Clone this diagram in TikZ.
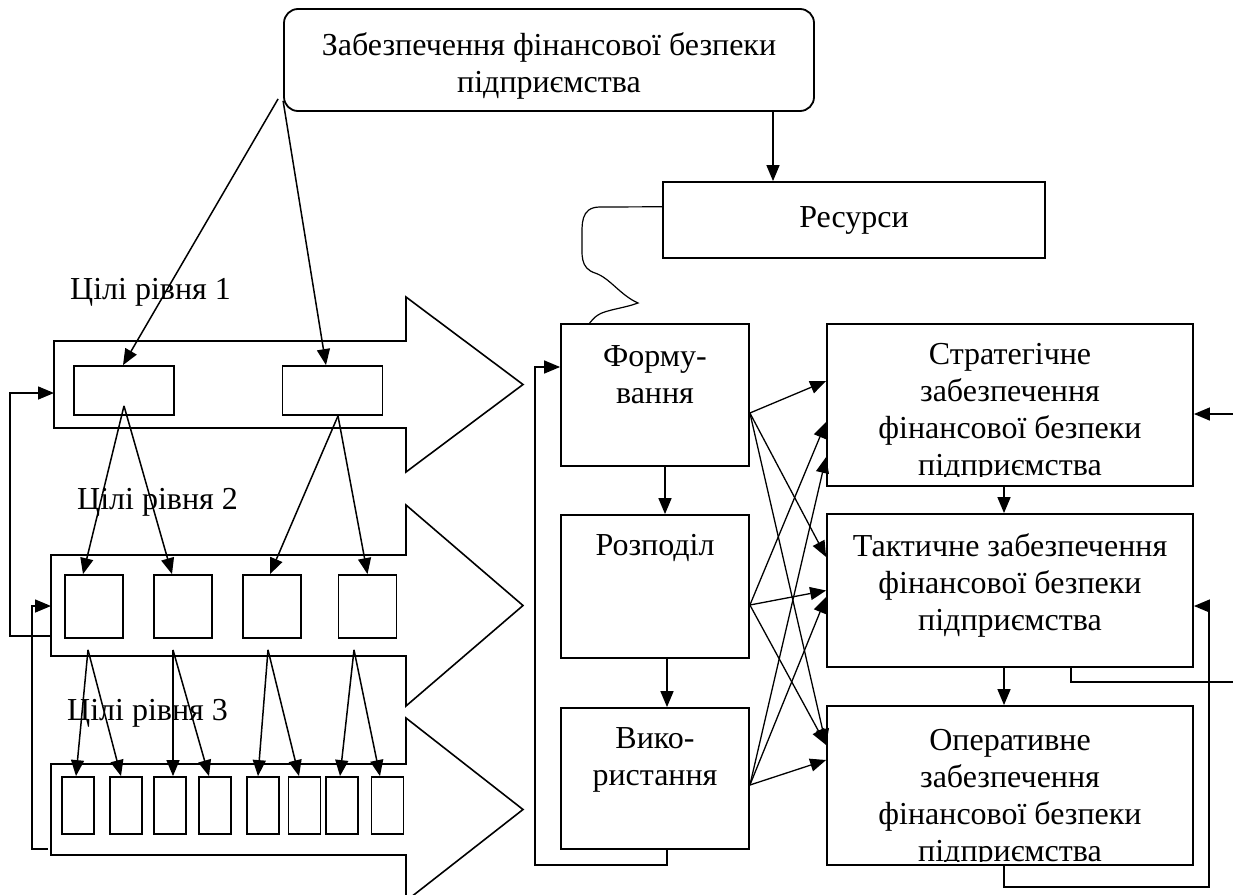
\documentclass[tikz,border=0pt]{standalone}
\usepackage{fontspec}
\setmainfont{Liberation Serif}
\usetikzlibrary{arrows.meta,positioning,calc}

\tikzset{
  box/.style={draw, line width=1.8pt, inner sep=0pt},
  txt/.style={align=center, inner sep=0pt, font=\fontsize{32}{37}\selectfont},
  ln/.style={line width=1.6pt},
  arr/.style={line width=1.5pt, -{Triangle[length=16pt,width=13pt]}},
  thinarr/.style={line width=1.3pt, -{Triangle[length=16pt,width=13pt]}},
}

\begin{document}
\begin{tikzpicture}[x=1pt, y=-1pt]
    \useasboundingbox (0,0) rectangle (1233,894);

    % === Top ===
    \node[box, rounded corners=14pt, minimum width=530, minimum height=102] (top) at (549,60) {};
    \node[txt, below=24pt of top.north] (top-t) {Забезпечення фінансової безпеки\\підприємства};
    \node[box, minimum width=382, minimum height=76, txt] (ress) at (854,220) {Ресурси};
    \draw[arr] ([xshift=224pt]top.south) -- ([xshift=224pt]top.south |- ress.north);

    % === Goal levels (Left) ===
    \foreach \t/\b/\h/\l in {341/428/87.5/54, 555/656/100.5/51, 764/855/91.5/51}
      \draw[ln] (\l,\t) -- (406,\t) -- (406,{(\t+\b)/2-\h}) -- (523,{(\t+\b)/2})
        -- (406,{(\t+\b)/2+\h}) -- (406,\b) -- (\l,\b) -- cycle;

    \node[txt, anchor=west] (lbl1) at (70,292) {Цілі рівня 1};
    \node[txt, anchor=west] (lbl2) at (77,502) {Цілі рівня 2};
    \node[txt, anchor=west] (lbl3) at (67,713) {Цілі рівня 3};

    \node[box, minimum width=100, minimum height=49] (g1a) at (124,390.5) {};
    \node[box, minimum width=100, minimum height=49] (g1b) at (332.5,390.5) {};
    \foreach \x [count=\i] in {94,183,272,367.5}
      \node[box, minimum width=58, minimum height=63] (g2-\i) at (\x,606.5) {};
    \foreach \x [count=\i] in {78,126,170,215,263,304.5,342,387.5}
      \node[box, minimum width=32, minimum height=57] (g3-\i) at (\x,805.5) {};

    % goals from the top
    \draw[arr] ($(top.south west)+(-5,-13)$) -- ([xshift=-1pt]g1a.north);
    \draw[arr] ($(top.south west)+(0,-11)$) -- ([xshift=-6.5pt]g1b.north);

    % level 1 -> level 2
    \draw[arr] ($(g1a.south)+(0,-10)$) -- ([xshift=-11pt]g2-1.north);
    \draw[arr] ($(g1a.south)+(0,-10)$) -- ([xshift=-11pt]g2-2.north);
    \draw[arr] ($(g1b.south)+(5.5,0)$) -- ([xshift=-2pt]g2-3.north);
    \draw[arr] ($(g1b.south)+(5.5,0)$) -- (g2-4.north);

    % level 2 -> level 3
    \foreach \s/\dx/\t/\tx in {1/-6/1/-2, 1/-6/2/-5, 2/-10/3/3, 2/-10/4/-6, 3/-4/5/-5, 3/-4/6/-5.5, 4/-13.5/7/-2, 4/-13.5/8/-7.5}
      \draw[arr] ($(g2-\s.south)+(\dx,11)$) -- ([xshift=\tx pt]g3-\t.north);

    % feedback between levels
    \coordinate (lv1in) at (54,393);
    \coordinate (lv2out) at (51,636);
    \coordinate (lv2in) at (51,606);
    \coordinate (lv3out) at (48,849);
    \draw[arr] (lv2out) -- (10,636) |- (lv1in);
    \draw[arr] (lv3out) -- (32,849) |- (lv2in);

    % === Resources (Middle) ===
    \node[box, minimum width=188, minimum height=142] (form) at (655,395) {};
    \node[box, minimum width=188, minimum height=143] (rozp) at (655,586.5) {};
    \node[box, minimum width=188, minimum height=141] (vyk) at (655,778.5) {};
    \node[txt, below=22pt of form.north] (form-t) {Форму-\\вання};
    \node[txt, below=20pt of rozp.north] (rozp-t) {Розподіл};
    \node[txt, below=20pt of vyk.north] (vyk-t) {Вико-\\ристання};

    \draw[arr] ([xshift=10pt]form.south) -- ([xshift=10pt]rozp.north);
    \draw[arr] ([xshift=12pt]rozp.south) -- ([xshift=12pt]vyk.north);
    \draw[arr] ([xshift=12pt]vyk.south) |- (535,865) |- ([yshift=28pt]form.west);

    \draw[line width=1.2pt] ($(ress.north west)!0.33!(ress.south west)$) -- (600,207)
      .. controls (580,207) and (582,225) .. (582,240)
      .. controls (582,255) and (580,268) .. (595,273)
      .. controls (610,278) and (620,295) .. (638,303)
      .. controls (625,308) and (605,310) .. (598,315)
      .. controls (593,318) and (591,322) .. ($(form.north west)!0.155!(form.north east)$);

    % === Levels of provision (Right) ===
    \node[box, minimum width=366, minimum height=162] (strat) at (1010,405) {};
    \node[box, minimum width=366, minimum height=153] (takt) at (1010,590.5) {};
    \node[box, minimum width=366, minimum height=159] (oper) at (1010,785.5) {};
    \begin{scope}
      \clip ([yshift=10pt]strat.south west) rectangle (strat.north east);
      \node[txt, below=20pt of strat.north] (strat-t) {Стратегічне\\забезпечення\\фінансової безпеки\\підприємства};
    \end{scope}
    \node[txt, below=20pt of takt.north] (takt-t) {Тактичне забезпечення\\фінансової безпеки\\підприємства};
    \begin{scope}
      \clip ([yshift=4pt]oper.south west) rectangle (oper.north east);
      \node[txt, below=24pt of oper.north] (oper-t) {Оперативне\\забезпечення\\фінансової безпеки\\підприємства};
    \end{scope}

    \draw[arr] ([xshift=-6pt]strat.south) -- ([xshift=-6pt]takt.north);
    \draw[arr] ([xshift=-6pt]takt.south) -- ([xshift=-6pt]oper.north);

    % every stage feeds every level
    \foreach \s/\sy/\t/\ty in {form/-18/strat/24, form/-18/takt/33.5, form/-18/oper/40.5,
                               rozp/-18.5/strat/-17, rozp/-18.5/takt/0, rozp/-18.5/oper/40.5,
                               vyk/-6.5/strat/-52, vyk/-6.5/takt/-6.5, vyk/-6.5/oper/25.5}
      \draw[thinarr] ([yshift=\sy pt]\s.east) -- ([yshift=\ty pt]\t.west);

    % feedback on the right
    \draw[arr] ([xshift=61pt]takt.south) |- (1245,682) |- ([yshift=-9pt]strat.east);
    \draw[arr] ([xshift=-6pt]oper.south) |- (1209,887) |- ([yshift=-15.5pt]takt.east);

\end{tikzpicture}
\end{document}
